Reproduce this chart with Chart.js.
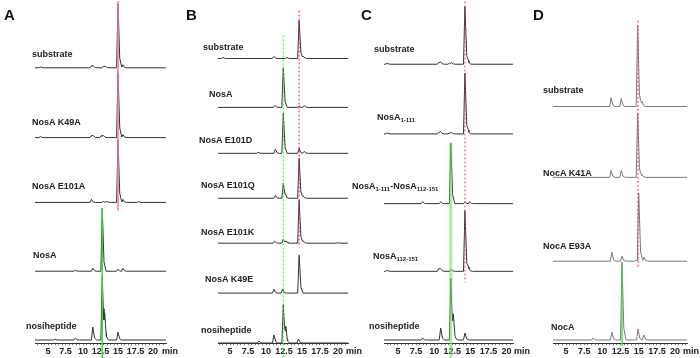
<!DOCTYPE html>
<html><head><meta charset="utf-8">
<script src="https://cdn.jsdelivr.net/npm/chart.js@4.4.1/dist/chart.umd.min.js"></script>
<style>
html,body{margin:0;padding:0;background:#fff;}
#wrap{position:relative;width:700px;height:358px;overflow:hidden;font-family:"Liberation Sans",Arial,sans-serif;}
canvas{position:absolute;left:0;top:0;}
.lb{position:absolute;font-weight:bold;font-size:9px;line-height:10px;color:#222;white-space:nowrap;}
.lb sub{font-size:6px;vertical-align:-2px;line-height:0;}
.pl{position:absolute;font-weight:bold;font-size:15px;line-height:15px;color:#111;}
</style></head><body><div id="wrap"></div>
<script>
// ---------- data ----------
// x unit: retention time (min); peak height unit: px above trace baseline; baseline: px from top
const tickLabels = [5, 7.5, 10, 12.5, 15, 17.5, 20];

const namesA = ['substrate', 'NosA K49A', 'NosA E101A', 'NosA', 'nosiheptide'];
const baselinesA = [67, 137, 202, 271, 340];
const peaksA = [
  [[3.9,1],[11.2,2],[11.45,2],[12.9,1.5],[13.15,1.5],[15.0,64],[15.7,3]],
  [[3.9,1],[11.2,2],[11.45,2],[12.6,2],[12.9,2],[15.0,65],[15.7,3]],
  [[11.2,3],[12.9,1],[13.4,1],[15.0,62],[15.7,3],[17.9,0.8]],
  [[8.9,1],[11.4,3],[12.75,63],[15.0,2],[15.7,3]],
  [[6.0,1],[8.9,2],[11.4,13],[12.75,64],[13.1,21],[15.0,8]]
];
const markersA = { pink: 15.0, pinkFrom: 0, pinkTo: 210, green: 12.75, greenFrom: 208, greenTo: 358 };

const namesB = ['substrate', 'NosA', 'NosA E101D', 'NosA E101Q', 'NosA E101K', 'NosA K49E', 'nosiheptide'];
const baselinesB = [58, 107, 153, 198, 243, 293, 343];
const peaksB = [
  [[4.0,1],[11.1,2],[12.9,1],[14.6,38],[15.2,2]],
  [[11.25,2],[12.4,40],[14.6,1],[15.3,2]],
  [[8.9,1],[11.3,4],[12.4,40],[14.6,5],[15.3,2]],
  [[11.3,3],[12.4,15],[12.7,2],[14.6,40],[15.2,2]],
  [[11.2,2],[12.4,4],[12.8,2],[14.6,43],[15.2,2],[20.0,0.5]],
  [[11.1,4],[12.3,4],[14.6,38]],
  [[9.0,2],[11.1,8],[12.4,38],[12.75,13],[14.5,4]]
];
const markersB = { pink: 14.6, pinkFrom: 10, pinkTo: 245, green: 12.4, greenFrom: 35, greenTo: 358 };

const namesC = ['substrate', 'NosA<sub>1-111</sub>', 'NosA<sub>1-111</sub>-NosA<sub>112-151</sub>', 'NosA<sub>112-151</sub>', 'nosiheptide'];
const baselinesC = [63, 133, 203, 271, 340];
const peaksC = [
  [[3.5,1],[10.65,2],[10.9,2],[12.1,1],[12.4,1.5],[14.25,58],[14.75,2]],
  [[3.5,1],[10.65,2],[10.9,2],[12.1,1],[12.4,1.5],[14.25,61],[14.75,2]],
  [[8.4,2],[10.9,2],[12.3,61],[14.25,2],[14.9,2]],
  [[3.5,1],[10.65,3],[10.9,2],[12.4,2],[14.25,61],[14.75,3]],
  [[8.4,2],[10.9,12],[12.3,62],[12.65,20],[14.25,7]]
];
const markersC = { pink: 14.25, pinkFrom: 0, pinkTo: 282, green: 12.3, greenFrom: 142, greenTo: 358 };

const namesD = ['substrate', 'NocA K41A', 'NocA E93A', 'NocA'];
const baselinesD = [106, 177, 261, 340];
const peaksD = [
  [[11.2,9],[12.6,8],[14.85,81],[15.45,5]],
  [[11.2,7],[12.6,7],[14.85,64],[15.45,3]],
  [[11.3,9],[12.7,5],[14.6,1],[15.0,68],[15.7,4]],
  [[8.7,2],[11.3,8],[12.7,78],[14.9,11],[15.7,5]]
];
const markersD = { pink: 14.9, pinkFrom: 20, pinkTo: 268, green: 12.7, greenFrom: 265, greenTo: 346 };

// ---------- layout / style ----------
const panels = [
  { letter:'A', lx:4, names:namesA, base:baselinesA, peaks:peaksA, mk:markersA, left:35, right:534, xmin:3.14, xmax:21.86,
    labelX:[32,32,32,33,26], labelY:[54,122,186,255,326], minX:162, trace:'#333',
    pinkStyle:{c:'rgba(238,120,170,0.75)', w:2, d:[]}, greenStyle:{c:'rgba(40,225,40,0.95)', w:1.5, d:[]} },
  { letter:'B', lx:186, names:namesB, base:baselinesB, peaks:peaksB, mk:markersB, left:218, right:352, xmin:3.33, xmax:21.39,
    labelX:[203,209,199,201,201,205,201], labelY:[47,94,140,185,232,279,330], minX:346, trace:'#333',
    pinkStyle:{c:'rgba(225,40,120,0.9)', w:1.2, d:[2,2]}, greenStyle:{c:'rgba(70,235,70,0.95)', w:1.2, d:[2,2]} },
  { letter:'C', lx:361, names:namesC, base:baselinesC, peaks:peaksC, mk:markersC, left:384, right:187, xmin:3.07, xmax:20.89,
    labelX:[374,377,352,373,369], labelY:[49,117,186,256,326], minX:514, trace:'#333',
    pinkStyle:{c:'rgba(225,50,120,0.9)', w:1, d:[2,2]}, greenStyle:{c:'rgba(110,225,110,0.6)', w:3, d:[]} },
  { letter:'D', lx:533, names:namesD, base:baselinesD, peaks:peaksD, mk:markersD, left:553, right:13, xmin:3.21, xmax:21.64,
    labelX:[543,543,543,551], labelY:[90,173,246,327], minX:683, trace:'#7a7a7a',
    pinkStyle:{c:'rgba(232,48,138,0.9)', w:1.2, d:[2,2]}, greenStyle:{c:'rgba(60,215,60,0.85)', w:1.5, d:[]} }
];

const FONT = '"Liberation Sans", Arial, sans-serif';
const wrap = document.getElementById('wrap');

// peak outline: fast rise, short tail (shape only; times/heights come from the arrays above)
const SHAPE = [[-0.2,0],[0,1],[0.25,0.15],[0.55,0]];
function peakProfile(p, x) {
  const t = p[0], h = p[1];
  const pts = SHAPE.map(s => [t+s[0], s[1]*h]);
  if (x <= pts[0][0] || x >= pts[pts.length-1][0]) return 0;
  for (let i = 0; i < pts.length-1; i++) {
    const a = pts[i], b = pts[i+1];
    if (x >= a[0] && x <= b[0]) return a[1] + (b[1]-a[1])*(x-a[0])/(b[0]-a[0]);
  }
  return 0;
}
function buildTrace(peaks, baseline, xmin, xmax) {
  let xs = [xmin, xmax];
  peaks.forEach(p => SHAPE.forEach(s => xs.push(p[0]+s[0])));
  xs = xs.filter(x => x >= xmin && x <= xmax).sort((a,b)=>a-b);
  return xs.map(x => ({ x, y: baseline - peaks.reduce((s,p)=>s+peakProfile(p,x),0) }));
}

panels.forEach(P => {
  const cv = document.createElement('canvas');
  cv.width = 700; cv.height = 358;
  wrap.appendChild(cv);
  const datasets = [];
  datasets.push({ data:[{x:P.mk.pink,y:P.mk.pinkFrom},{x:P.mk.pink,y:P.mk.pinkTo}], borderColor:P.pinkStyle.c,
    borderWidth:P.pinkStyle.w, borderDash:P.pinkStyle.d, pointRadius:0, clip:false, order:0 });
  datasets.push({ data:[{x:P.mk.green,y:P.mk.greenFrom},{x:P.mk.green,y:P.mk.greenTo}], borderColor:P.greenStyle.c,
    borderWidth:P.greenStyle.w, borderDash:P.greenStyle.d, pointRadius:0, clip:false, order:0 });
  P.peaks.forEach((pk, i) => {
    datasets.push({ data: buildTrace(pk, P.base[i], P.xmin, P.xmax), borderColor:P.trace, borderWidth:1,
      pointRadius:0, tension:0, clip:false, order:1 });
  });
  const chart = new Chart(cv, {
    type:'line',
    data:{ datasets },
    options:{
      responsive:false, animation:false, devicePixelRatio:1,
      layout:{ padding:{ left:P.left, right:P.right, top:0, bottom:0 } },
      plugins:{ legend:{display:false}, tooltip:{enabled:false} },
      scales:{
        x:{ type:'linear', min:P.xmin, max:P.xmax,
          afterBuildTicks: s => { const t=[]; for (let k=Math.ceil(s.min*2); k<=Math.floor(s.max*2); k++) t.push({value:k/2}); s.ticks=t; },
          ticks:{ autoSkip:false, maxRotation:0, minRotation:0, padding:1, color:'#222',
            font:{ family:FONT, size:9, weight:'bold' },
            callback: v => tickLabels.includes(v) ? String(v) : '' },
          grid:{ drawOnChartArea:false, tickLength:2, color:'#555', lineWidth:0.8 },
          border:{ color:'#333', width:1 } },
        y:{ type:'linear', display:false, reverse:true, min:0, max:346 }
      }
    }
  });
  chart.options.scales.y.max = chart.chartArea.bottom;
  chart.update('none');

  const L = document.createElement('div'); L.className='pl'; L.textContent=P.letter;
  L.style.left=P.lx+'px'; L.style.top='7px'; wrap.appendChild(L);
  P.names.forEach((n,i) => {
    const d = document.createElement('div'); d.className='lb'; d.innerHTML=n;
    d.style.left=P.labelX[i]+'px'; d.style.top=(P.labelY[i]-5)+'px'; wrap.appendChild(d);
  });
  const m = document.createElement('div'); m.className='lb'; m.textContent='min';
  m.style.left=P.minX+'px'; m.style.top=(chart.chartArea.bottom+3)+'px'; wrap.appendChild(m);
});
</script></body></html>
